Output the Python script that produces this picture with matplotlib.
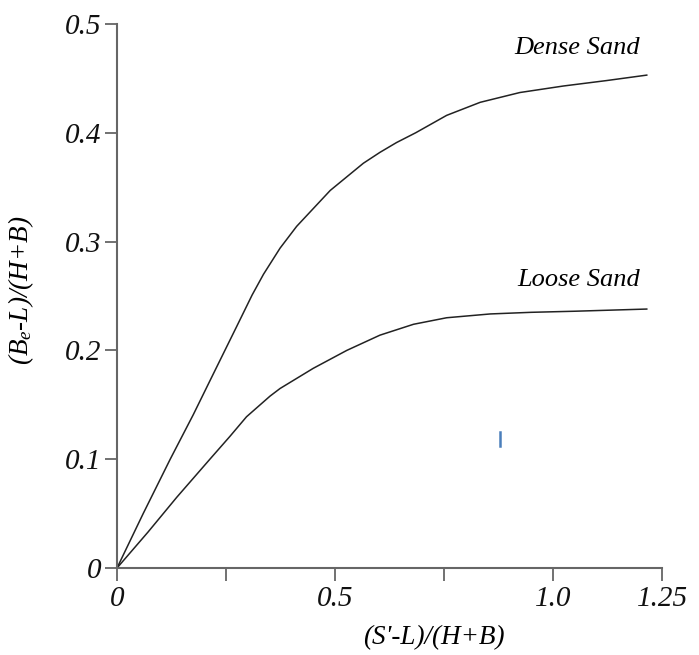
import matplotlib
matplotlib.use("Agg")
import matplotlib.pyplot as plt

# --- datos ---
dense_x = [0.0, 0.060, 0.122, 0.175, 0.213, 0.2745, 0.31, 0.336, 0.374, 0.412, 0.489,
           0.565, 0.603, 0.641, 0.685, 0.756, 0.833, 0.924, 1.024, 1.123, 1.215]
dense_y = [0.0, 0.050, 0.100, 0.141, 0.172, 0.222, 0.251, 0.270, 0.294, 0.314, 0.347,
           0.372, 0.382, 0.391, 0.400, 0.416, 0.428, 0.437, 0.443, 0.448, 0.453]

loose_x = [0.0, 0.071, 0.137, 0.213, 0.259, 0.297, 0.351, 0.374, 0.450, 0.527,
           0.603, 0.680, 0.756, 0.856, 0.95, 1.05, 1.215]
loose_y = [0.0, 0.033, 0.065, 0.100, 0.121, 0.139, 0.158, 0.165, 0.1835, 0.200,
           0.214, 0.224, 0.230, 0.2335, 0.235, 0.236, 0.238]

x_ticks = [0.0, 0.25, 0.5, 0.75, 1.0, 1.25]
x_tick_labels = ["0", "", "0.5", "", "1.0", "1.25"]
y_ticks = [0.0, 0.1, 0.2, 0.3, 0.4, 0.5]
y_tick_labels = ["0", "0.1", "0.2", "0.3", "0.4", "0.5"]

# marca azul suelta presente en la imagen original
stray_x = [0.878, 0.878]
stray_y = [0.112, 0.125]

plt.rcParams["font.family"] = "Liberation Serif"
plt.rcParams["font.style"] = "italic"
plt.rcParams["mathtext.fontset"] = "custom"
plt.rcParams["mathtext.it"] = "Liberation Serif:italic"
plt.rcParams["mathtext.rm"] = "Liberation Serif:italic"

fig = plt.figure(figsize=(6.99, 6.55), dpi=100)
ax = fig.add_axes([0.1674, 0.1328, 0.7797, 0.8306])

ax.plot(dense_x, dense_y, color="#222222", linewidth=1.1)
ax.plot(loose_x, loose_y, color="#222222", linewidth=1.1)
ax.plot(stray_x, stray_y, color="#4a7ebb", linewidth=1.8)

ax.text(1.20, 0.478, "Dense Sand", ha="right", va="center", fontsize=19,
        fontstyle="italic")
ax.text(1.20, 0.265, "Loose Sand", ha="right", va="center", fontsize=19,
        fontstyle="italic")

ax.set_xlim(0, 1.25)
ax.set_ylim(0, 0.5)
ax.set_xticks(x_ticks)
ax.set_xticklabels(x_tick_labels)
ax.set_yticks(y_ticks)
ax.set_yticklabels(y_tick_labels)
for lbl in ax.get_xticklabels() + ax.get_yticklabels():
    lbl.set_fontstyle("italic")
    lbl.set_fontsize(21)

for side in ["top", "right"]:
    ax.spines[side].set_visible(False)
for side in ["left", "bottom"]:
    ax.spines[side].set_color("#666666")
    ax.spines[side].set_linewidth(1.5)

ax.tick_params(axis="both", direction="out", length=9, width=1.3,
               color="#666666", labelcolor="#111111")
ax.tick_params(axis="x", pad=4)
ax.tick_params(axis="y", pad=2)

ax.set_xlabel("(S'-L)/(H+B)", fontsize=19.5, fontstyle="italic")
ax.xaxis.set_label_coords(0.582, -0.105)
ax.set_ylabel("(B$_{e}$-L)/(H+B)", fontsize=19.5, fontstyle="italic")
ax.yaxis.set_label_coords(-0.148, 0.511)

fig.savefig("out.png", dpi=100)
